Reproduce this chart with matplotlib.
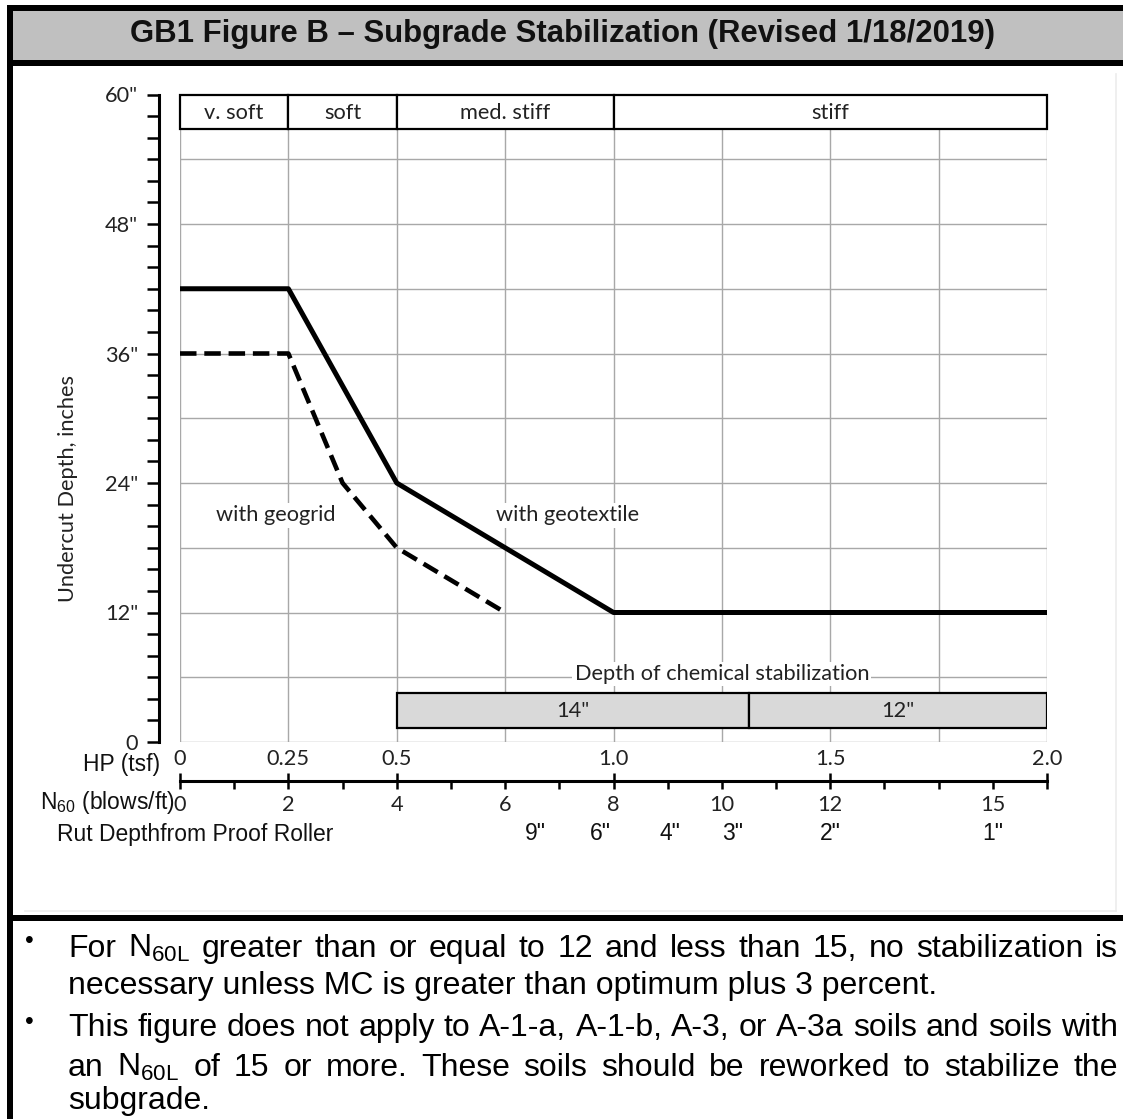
import numpy as np
import matplotlib
matplotlib.use("Agg")
import matplotlib.pyplot as plt
from matplotlib.patches import Rectangle
from matplotlib.ticker import MultipleLocator, FixedLocator, FuncFormatter
from matplotlib.transforms import blended_transform_factory

plt.rcParams['mathtext.fontset'] = 'custom'
plt.rcParams['mathtext.rm'] = 'Liberation Sans'
plt.rcParams['mathtext.it'] = 'Liberation Sans:italic'
plt.rcParams['mathtext.bf'] = 'Liberation Sans:bold'

# Data ............................................................................................

# Undercut depth curves (x = HP in tsf, y = depth in inches)
geotextile_hp = [0, 0.25, 0.5, 1.0, 2.0]
geotextile_depth = [42, 42, 24, 12, 12]
geogrid_hp = [0, 0.25, 0.375, 0.5, 0.75]
geogrid_depth = [36, 36, 24, 18, 12]

# Soil consistency band along the top
consistency = ['v. soft', 'soft', 'med. stiff', 'stiff']
consistency_edges = [0, 0.25, 0.5, 1.0, 2.0]

# Depth of chemical stabilization bar
chem_edges = [0.5, 1.3125, 2.0]
chem_labels = ['14"', '12"']
chem_depth = [1.3, 4.5]

# Axes
depth_ticks = [0, 12, 24, 36, 48, 60]
depth_labels = ['0', '12"', '24"', '36"', '48"', '60"']
hp_ticks = [0, 0.25, 0.5, 1.0, 1.5, 2.0]
hp_labels = ['0', '0.25', '0.5', '1.0', '1.5', '2.0']
n60_major = [0, 2, 4, 8, 12, 16]
n60_labels = [0, 2, 4, 6, 8, 10, 12, 15]
rut_n60 = [6.55, 7.75, 9.05, 10.2, 12.0, 15.0]
rut_labels = ['9"', '6"', '4"', '3"', '2"', '1"']

title = 'GB1 Figure B \u2013 Subgrade Stabilization (Revised 1/18/2019)'
notes = [
    ('For N$_{\\mathrm{60L}}$ greater than or equal to 12 and less than 15, no stabilization is', True),
    ('necessary unless MC is greater than optimum plus 3 percent.', False),
    ('This figure does not apply to A-1-a, A-1-b, A-3, or A-3a soils and soils with', True),
    ('an N$_{\\mathrm{60L}}$ of 15 or more.  These soils should be reworked to stabilize the', True),
    ('subgrade.', False),
]


# Figure and page frame ...........................................................................

W, H = 1123, 1119
fig = plt.figure(figsize = (W / 100, H / 100), dpi = 100)

frame = fig.add_axes([0, 0, 1, 1])
frame.set_xlim(0, W)
frame.set_ylim(H, 0)
frame.axis('off')

# Title band and black rules
frame.add_patch(Rectangle((13, 11), W - 13, 49, facecolor = '#c0c0c0', edgecolor = 'none'))
frame.add_patch(Rectangle((7, 5), W - 7, 6, facecolor = 'black', edgecolor = 'none'))
frame.add_patch(Rectangle((7, 5), 6, H - 5, facecolor = 'black', edgecolor = 'none'))
frame.add_patch(Rectangle((7, 60), W - 7, 6, facecolor = 'black', edgecolor = 'none'))
frame.add_patch(Rectangle((7, 915), W - 7, 6, facecolor = 'black', edgecolor = 'none'))
frame.plot([1116, 1116], [74, 911], color = '#ececec', lw = 1.2)
frame.plot([25, 1116], [911, 911], color = '#ececec', lw = 1.2)

frame.text(562, 34, title, ha = 'center', va = 'center', fontsize = 22.4, fontweight = 'bold',
           family = 'Liberation Sans', color = '#111111')

# Labels left of the lower axes
arial = dict(family = 'Liberation Sans', fontsize = 16.5, color = '#111111')
frame.text(160, 765, 'HP (tsf)', ha = 'right', va = 'center', **arial)
frame.text(175, 803, 'N$_{\\mathrm{60}}$ (blows/ft)', ha = 'right', va = 'center', **arial)
frame.text(57, 834, 'Rut Depthfrom Proof Roller', ha = 'left', va = 'center', **arial)
frame.text(68, 488, 'Undercut Depth, inches', rotation = 90, ha = 'center', va = 'center',
           family = 'Lato', fontsize = 15.7, color = '#222222')


# Main chart ......................................................................................

LFS = 15.7  # label size for the Calibri-like chart text

ax = fig.add_axes([180 / W, (H - 742) / H, 867 / W, 647.5 / H])
ax.set_xlim(0, 2)
ax.set_ylim(0, 60)
ax.patch.set_visible(False)

# Grid (stops at the consistency band)
grid_kw = dict(color = '#a8a8a8', lw = 1.0, zorder = 1)
ax.hlines(np.arange(0, 55, 6), 0, 2, **grid_kw)
ax.vlines(np.arange(0, 2.01, 0.25), 0, 56.8, **grid_kw)

# Consistency band
for name, x0, x1 in zip(consistency, consistency_edges[:-1], consistency_edges[1:]):
    ax.add_patch(Rectangle((x0, 56.8), x1 - x0, 3.2, facecolor = 'white', edgecolor = 'black',
                           lw = 1.6, zorder = 3, clip_on = False))
    ax.text((x0 + x1) / 2, 58.3, name, ha = 'center', va = 'center', family = 'Lato',
            fontsize = LFS, color = '#222222', zorder = 4)

# Chemical stabilization bar
for lab, x0, x1 in zip(chem_labels, chem_edges[:-1], chem_edges[1:]):
    ax.add_patch(Rectangle((x0, chem_depth[0]), x1 - x0, chem_depth[1] - chem_depth[0],
                           facecolor = '#d9d9d9', edgecolor = 'black', lw = 1.6, zorder = 3))
    ax.text((x0 + x1) / 2, sum(chem_depth) / 2, lab, ha = 'center', va = 'center',
            family = 'Lato', fontsize = LFS, color = '#222222', zorder = 4)

box = dict(facecolor = 'white', edgecolor = 'none', pad = 1.5)
ax.text(1.25, 6.3, 'Depth of chemical stabilization', ha = 'center', va = 'center', family = 'Lato',
        fontsize = LFS, color = '#222222', bbox = box, zorder = 5)

# Curves
ax.plot(geotextile_hp, geotextile_depth, color = 'black', lw = 3.6, solid_capstyle = 'butt', zorder = 4)
ax.plot(geogrid_hp, geogrid_depth, color = 'black', lw = 3.3, ls = (0, (3.6, 1.7)),
        dash_capstyle = 'butt', zorder = 4)
ax.text(0.22, 21, 'with geogrid', ha = 'center', va = 'center', family = 'Lato', fontsize = LFS,
        color = '#222222', bbox = box, zorder = 5)
ax.text(0.893, 21, 'with geotextile', ha = 'center', va = 'center', family = 'Lato', fontsize = LFS,
        color = '#222222', bbox = box, zorder = 5)

# Depth axis
for s in ['top', 'right', 'bottom']:
    ax.spines[s].set_visible(False)
ax.spines['left'].set_position(('outward', 15))
ax.spines['left'].set_linewidth(2.2)
ax.set_yticks(depth_ticks, depth_labels)
ax.yaxis.set_minor_locator(MultipleLocator(2))
ax.tick_params(axis = 'y', which = 'both', direction = 'out', length = 8.6, width = 1.8, pad = 6.5,
               labelsize = LFS)

# HP labels (no ticks)
ax.set_xticks(hp_ticks, hp_labels)
ax.tick_params(axis = 'x', length = 0, pad = 5, labelsize = LFS)
for t in ax.get_xticklabels() + ax.get_yticklabels():
    t.set_family('Lato')
    t.set_color('#222222')

# N60 axis below
secax = ax.secondary_xaxis(-0.0602, functions = (lambda h: h * 8, lambda n: n / 8))
secax.spines['bottom'].set_linewidth(2.2)
secax.set_xticks(n60_major, [str(n) if n in n60_labels else '' for n in n60_major])
secax.xaxis.set_minor_locator(FixedLocator(range(17)))
secax.xaxis.set_minor_formatter(FuncFormatter(
    lambda v, p: str(int(round(v))) if int(round(v)) in n60_labels and int(round(v)) not in n60_major else ''))
secax.tick_params(which = 'major', direction = 'inout', length = 11.5, width = 1.8, pad = 4, labelsize = LFS)
secax.tick_params(which = 'minor', direction = 'out', length = 5.8, width = 1.8, pad = 4, labelsize = LFS)
for t in secax.get_xticklabels(which = 'both'):
    t.set_family('Lato')
    t.set_color('#222222')

# Rut depth row
rut_tr = blended_transform_factory(ax.transData, frame.transData)
for n, lab in zip(rut_n60, rut_labels):
    ax.text(n / 8, 834, lab, transform = rut_tr, ha = 'center', va = 'center', clip_on = False, **arial)


# Notes below the chart ...........................................................................

renderer = fig.canvas.get_renderer()
note_kw = dict(family = 'Liberation Sans', fontsize = 23, color = 'black', va = 'baseline')
baselines = [957, 994, 1036, 1076, 1109]
x_left, x_right = 68, 1118

for (line, justify), yb in zip(notes, baselines):
    if not justify:
        frame.text(x_left, yb, line, ha = 'left', **note_kw)
        continue
    words = line.replace('.  ', '. ').split(' ')
    texts = [frame.text(0, yb, w, ha = 'left', **note_kw) for w in words]
    widths = [t.get_window_extent(renderer).width for t in texts]
    gap = (x_right - x_left - sum(widths)) / (len(words) - 1)
    x = x_left
    for t, w in zip(texts, widths):
        t.set_x(x)
        x += w + gap

for yb in [941, 1022]:
    frame.text(29, yb, '\u2022', ha = 'center', va = 'center', family = 'Liberation Sans', fontsize = 18)

fig.savefig('out.png', dpi = 100)
